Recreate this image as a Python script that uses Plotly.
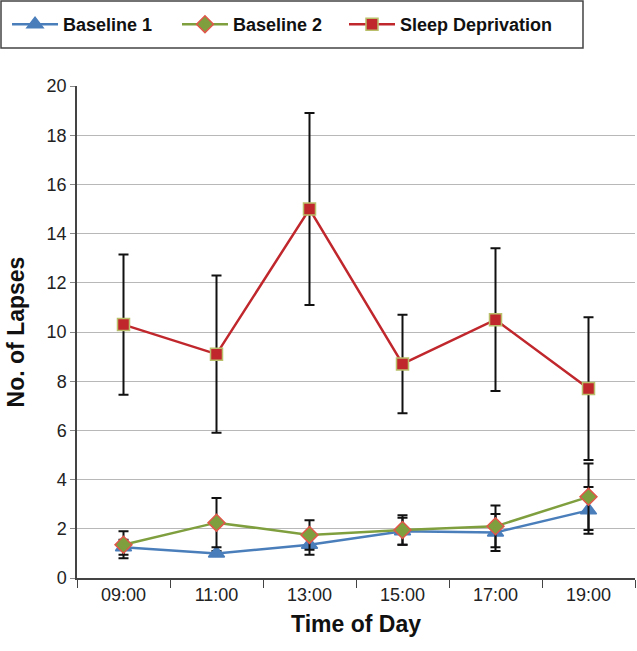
import plotly.graph_objects as go

times = ["09:00", "11:00", "13:00", "15:00", "17:00", "19:00"]

baseline1 = [1.25, 1.0, 1.35, 1.9, 1.85, 2.75]
baseline1_err = [0.3, 0.1, 0.4, 0.55, 0.75, 0.95]

baseline2 = [1.35, 2.25, 1.75, 1.95, 2.1, 3.3]
baseline2_err = [0.55, 1.0, 0.6, 0.6, 0.85, 1.35]

sleep_dep = [10.3, 9.1, 15.0, 8.7, 10.5, 7.7]
sleep_dep_err = [2.85, 3.2, 3.9, 2.0, 2.9, 2.9]

FONT = "Liberation Sans, Arial, sans-serif"


def series(name, y, err, color, symbol, fill, outline, size, legend):
    return go.Scatter(
        x=times,
        y=y,
        name=name,
        legend=legend,
        showlegend=True,
        mode="lines+markers",
        line=dict(color=color, width=2.5),
        marker=dict(symbol=symbol, size=size, color=fill, line=dict(color=outline, width=1.5)),
        error_y=dict(type="data", array=err, visible=True, color="#111111", thickness=2, width=5),
    )


fig = go.Figure(
    data=[
        series("Baseline 1", baseline1, baseline1_err, "#4a7ebb", "triangle-up", "#4a7ebb", "#4a7ebb", 14, "legend"),
        series("Baseline 2", baseline2, baseline2_err, "#7f9f3f", "diamond", "#7f9f3f", "#e0574a", 13, "legend2"),
        series("Sleep Deprivation", sleep_dep, sleep_dep_err, "#c0272d", "square", "#c0272d", "#b9bf6b", 12, "legend3"),
    ]
)

# one legend per entry so the spacing matches, with a frame drawn round all three
legend_style = dict(
    orientation="h",
    y=1.1626,
    xanchor="left",
    yanchor="top",
    borderwidth=0,
    bgcolor="rgba(0,0,0,0)",
    font=dict(size=18, color="#111111", family=FONT, weight="bold"),
    itemwidth=46,
    visible=True,
)

fig.update_layout(
    width=637,
    height=651,
    showlegend=True,
    margin=dict(l=77, r=2, t=86, b=73, autoexpand=False),
    plot_bgcolor="white",
    paper_bgcolor="white",
    font=dict(family=FONT, size=18, color="#222222"),
    legend=dict(x=-0.1254, **legend_style),
    legend2=dict(x=0.1792, **legend_style),
    legend3=dict(x=0.4785, **legend_style),
    shapes=[
        dict(
            type="rect",
            xref="paper",
            yref="paper",
            x0=-0.1362,
            x1=0.9068,
            y0=1.0772,
            y1=1.1728,
            line=dict(color="#444444", width=1.5),
        )
    ],
)

fig.update_xaxes(
    title=dict(text="Time of Day", font=dict(size=23, weight="bold", color="#111111"), standoff=12),
    type="category",
    range=[-0.5, 5.5],
    tickson="boundaries",
    ticks="outside",
    ticklen=8,
    tickcolor="#444444",
    showline=True,
    linecolor="#444444",
    linewidth=1.5,
    showgrid=False,
    automargin=False,
    tickfont=dict(size=18),
)

fig.update_yaxes(
    title=dict(text="No. of Lapses", font=dict(size=23, weight="bold", color="#111111"), standoff=16),
    range=[0, 20],
    dtick=2,
    ticks="outside",
    ticklen=5,
    tickcolor="#888888",
    showline=True,
    linecolor="#444444",
    linewidth=1.5,
    showgrid=True,
    gridcolor="#b8b8b8",
    gridwidth=1.2,
    zeroline=False,
    automargin=False,
    tickfont=dict(size=18),
)

fig.write_html(
    "out.html",
    config=dict(displayModeBar=False),
    post_script="document.body.style.margin = '0';",
)
